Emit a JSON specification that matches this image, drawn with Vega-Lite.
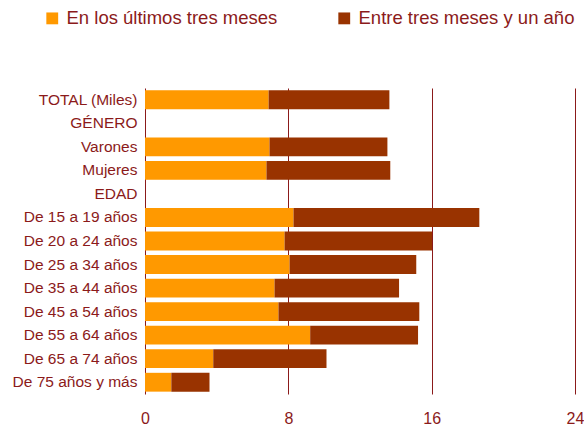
{
  "$schema": "https://vega.github.io/schema/vega-lite/v6.json",
  "width": 430,
  "height": 306,
  "autosize": "none",
  "padding": {"left": 145, "top": 88, "right": 9, "bottom": 34},
  "config": {
    "view": {"stroke": null},
    "font": "Liberation Sans"
  },
  "data": {
    "values": [
      {"categoria": "TOTAL (Miles)", "serie": "En los últimos tres meses", "orden": 1, "valor": 6.9},
      {"categoria": "TOTAL (Miles)", "serie": "Entre tres meses y un año", "orden": 2, "valor": 6.74},
      {"categoria": "Varones", "serie": "En los últimos tres meses", "orden": 1, "valor": 6.95},
      {"categoria": "Varones", "serie": "Entre tres meses y un año", "orden": 2, "valor": 6.58},
      {"categoria": "Mujeres", "serie": "En los últimos tres meses", "orden": 1, "valor": 6.78},
      {"categoria": "Mujeres", "serie": "Entre tres meses y un año", "orden": 2, "valor": 6.91},
      {"categoria": "De 15 a 19 años", "serie": "En los últimos tres meses", "orden": 1, "valor": 8.29},
      {"categoria": "De 15 a 19 años", "serie": "Entre tres meses y un año", "orden": 2, "valor": 10.37},
      {"categoria": "De 20 a 24 años", "serie": "En los últimos tres meses", "orden": 1, "valor": 7.79},
      {"categoria": "De 20 a 24 años", "serie": "Entre tres meses y un año", "orden": 2, "valor": 8.23},
      {"categoria": "De 25 a 34 años", "serie": "En los últimos tres meses", "orden": 1, "valor": 8.07},
      {"categoria": "De 25 a 34 años", "serie": "Entre tres meses y un año", "orden": 2, "valor": 7.07},
      {"categoria": "De 35 a 44 años", "serie": "En los últimos tres meses", "orden": 1, "valor": 7.23},
      {"categoria": "De 35 a 44 años", "serie": "Entre tres meses y un año", "orden": 2, "valor": 6.95},
      {"categoria": "De 45 a 54 años", "serie": "En los últimos tres meses", "orden": 1, "valor": 7.45},
      {"categoria": "De 45 a 54 años", "serie": "Entre tres meses y un año", "orden": 2, "valor": 7.86},
      {"categoria": "De 55 a 64 años", "serie": "En los últimos tres meses", "orden": 1, "valor": 9.22},
      {"categoria": "De 55 a 64 años", "serie": "Entre tres meses y un año", "orden": 2, "valor": 6.02},
      {"categoria": "De 65 a 74 años", "serie": "En los últimos tres meses", "orden": 1, "valor": 3.81},
      {"categoria": "De 65 a 74 años", "serie": "Entre tres meses y un año", "orden": 2, "valor": 6.32},
      {"categoria": "De 75 años y más", "serie": "En los últimos tres meses", "orden": 1, "valor": 1.47},
      {"categoria": "De 75 años y más", "serie": "Entre tres meses y un año", "orden": 2, "valor": 2.13}
    ]
  },
  "mark": {"type": "bar"},
  "encoding": {
    "y": {
      "field": "categoria",
      "type": "nominal",
      "scale": {
        "domain": ["TOTAL (Miles)", "GÉNERO", "Varones", "Mujeres", "EDAD", "De 15 a 19 años", "De 20 a 24 años", "De 25 a 34 años", "De 35 a 44 años", "De 45 a 54 años", "De 55 a 64 años", "De 65 a 74 años", "De 75 años y más"],
        "paddingInner": 0.2,
        "paddingOuter": 0.1
      },
      "axis": {
        "title": null,
        "domain": false,
        "ticks": false,
        "grid": false,
        "labelPadding": 8,
        "labelFontSize": 15.5,
        "labelColor": "#8B1A1A",
        "labelLimit": 200
      }
    },
    "x": {
      "field": "valor",
      "type": "quantitative",
      "stack": "zero",
      "scale": {"domain": [0, 24], "nice": false},
      "axis": {
        "title": null,
        "values": [0, 8, 16, 24],
        "domain": false,
        "ticks": false,
        "grid": true,
        "gridColor": "#8B1A1A",
        "gridOpacity": 1,
        "gridWidth": 1,
        "labelPadding": 16,
        "labelFontSize": 16,
        "labelColor": "#8B1A1A",
        "labelFlush": false
      }
    },
    "color": {
      "field": "serie",
      "type": "nominal",
      "scale": {
        "domain": ["En los últimos tres meses", "Entre tres meses y un año"],
        "range": ["#FF9900", "#993300"]
      },
      "legend": {
        "title": null,
        "orient": "none",
        "direction": "horizontal",
        "legendX": -102,
        "legendY": -79,
        "symbolType": "square",
        "symbolSize": 140,
        "symbolStrokeWidth": 0,
        "symbolOpacity": 1,
        "labelFontSize": 18.5,
        "labelColor": "#8B1A1A",
        "labelOffset": 5,
        "columnPadding": 57,
        "labelLimit": 300
      }
    },
    "order": {"field": "orden", "type": "quantitative"}
  }
}
